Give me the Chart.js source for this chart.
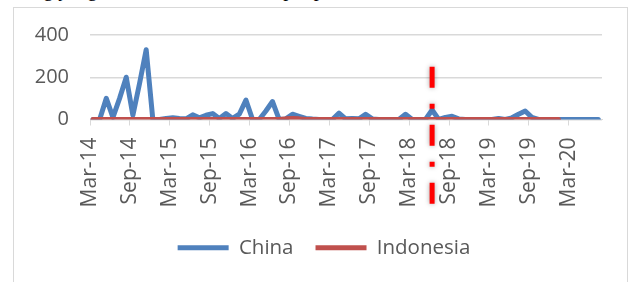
<!DOCTYPE html>
<html>
<head>
<meta charset="utf-8">
<script src="https://cdn.jsdelivr.net/npm/chart.js@4"></script>
<style>
  html, body { margin: 0; padding: 0; background: #fff; overflow: hidden; }
  body { width: 630px; height: 282px; position: relative; }
  #doc-line {
    position: absolute; left: 0; top: -21px; white-space: nowrap;
    font: 20px 'Liberation Serif', serif; line-height: 20px; color: #000;
  }
  #frame {
    position: absolute; left: 13px; top: 7px; width: 613px; height: 290px;
    border: 1px solid #d9d9d9; background: #fff;
  }
  #wrap { position: absolute; left: 0; top: -6px; width: 612px; height: 280px; }
</style>
</head>
<body>
<div id="doc-line">datang yang di olah menurut bulan per padanan HS.</div>
<div id="frame"><div id="wrap"><canvas id="chart"></canvas></div></div>
<script>
(()=>{
    const ctx = document.getElementById('chart');

    // monthly series, first month = Mar-14
    const tickLabels = ['Mar-14','Sep-14','Mar-15','Sep-15','Mar-16','Sep-16','Mar-17',
                        'Sep-17','Mar-18','Sep-18','Mar-19','Sep-19','Mar-20'];
    const tickEvery = 6; // months between labels

    // China: Mar-14 .. Jul-20
    const china = [
        0, 0, 100, 10, 100, 200, 20, 170, 330, 0,
        0, 5, 8, 5, 3, 22, 8, 20, 28, 5,
        28, 5, 25, 92, 0, 0, 40, 85, 0, 3,
        25, 15, 5, 2, 0, 0, 0, 30, 3, 5,
        3, 25, 3, 0, 0, 0, 0, 25, 0, 0,
        0, 45, 0, 10, 15, 3, 0, 0, 0, 0,
        0, 5, 0, 8, 25, 40, 10, 0, 0, 0,
        0, 0, 0, 0, 0, 0, 0
    ];
    // Indonesia: Mar-14 .. Jan-20
    const indonesia = [
        0, 0, 0, 0, 0, 0, 0, 0, 0, 0,
        0, 0, 0, 0, 0, 0, 0, 0, 0, 0,
        0, 0, 0, 0, 0, 0, 0, 0, 0, 3,
        5, 3, 0, 0, 0, 0, 0, 0, 0, 0,
        0, 0, 0, 0, 0, 0, 0, 0, 0, 0,
        0, 0, 0, 0, 0, 0, 0, 0, 0, 0,
        0, 0, 0, 0, 0, 0, 0, 0, 0, 0,
        0
    ];
    const yTicks = [0, 200, 400];

    // red dash-dot marker at Jun-18 (month index 51)
    const markerMonth = 51;
    const markerTop = 250;
    const markerBottom = -410;

    // points are dated mid-month on a date axis
    const toPoints = arr => arr.map((v, i) => ({x: i + 0.45, y: v}));

    const textColor = '#595959';
    const gridColor = '#d9d9d9';
    const fontFamily = "'Open Sans', sans-serif";

    const marker = {
        id: 'marker',
        afterLayout(chart) {
            // legend sits a little right of centre in the original
            chart.legend.left += 16;
            chart.legend.right += 16;
        },
        afterDraw(chart) {
            const c = chart.ctx;
            const xs = chart.scales.x, ys = chart.scales.y;
            const x = xs.getPixelForValue(markerMonth + 0.45);
            c.save();
            c.strokeStyle = '#ff0000';
            c.lineWidth = 5;
            c.setLineDash([21, 16, 5, 16]);
            c.shadowColor = 'rgba(0,0,0,0.35)';
            c.shadowBlur = 5;
            c.beginPath();
            c.moveTo(x, ys.getPixelForValue(markerTop));
            c.lineTo(x, ys.getPixelForValue(markerBottom));
            c.stroke();
            c.restore();
        }
    };

    new Chart(ctx, {
        type: 'line',
        data: {
            datasets: [
                {
                    label: 'China',
                    data: toPoints(china),
                    borderColor: '#4f81bd',
                    backgroundColor: '#4f81bd',
                    borderWidth: 5,
                    borderCapStyle: 'round',
                    borderJoinStyle: 'round',
                    pointRadius: 0,
                    tension: 0,
                    order: 2
                },
                {
                    label: 'Indonesia',
                    data: toPoints(indonesia),
                    borderColor: '#c0504d',
                    backgroundColor: '#c0504d',
                    borderWidth: 5,
                    borderCapStyle: 'round',
                    borderJoinStyle: 'round',
                    pointRadius: 0,
                    tension: 0,
                    order: 1
                }
            ]
        },
        options: {
            responsive: true,
            maintainAspectRatio: false,
            animation: false,
            layout: {
                padding: {top: 33, right: 24, bottom: 14, left: 0}
            },
            plugins: {
                tooltip: {enabled: false},
                legend: {
                    position: 'bottom',
                    labels: {
                        usePointStyle: true,
                        pointStyleWidth: 51,
                        pointStyle: 'line',
                        color: textColor,
                        padding: 22,
                        font: {family: fontFamily, size: 20.5},
                        sort: (a, b) => a.datasetIndex - b.datasetIndex
                    }
                }
            },
            scales: {
                x: {
                    type: 'linear',
                    min: 0,
                    max: 77,
                    afterBuildTicks: s => {
                        s.ticks = tickLabels.map((t, i) => ({value: i * tickEvery}));
                    },
                    afterFit: s => { s.height = 96; },
                    border: {color: gridColor, width: 1},
                    grid: {
                        drawOnChartArea: false,
                        color: gridColor,
                        tickLength: 6
                    },
                    ticks: {
                        autoSkip: false,
                        minRotation: 90,
                        maxRotation: 90,
                        padding: 12,
                        color: textColor,
                        font: {family: fontFamily, size: 21},
                        callback: v => tickLabels[Math.round(v / tickEvery)]
                    }
                },
                y: {
                    min: 0,
                    max: 400,
                    afterBuildTicks: s => {
                        s.ticks = yTicks.map(v => ({value: v}));
                    },
                    afterFit: s => { s.width = 76; },
                    border: {display: false},
                    grid: {
                        color: gridColor,
                        lineWidth: 1.5,
                        drawTicks: false
                    },
                    ticks: {
                        padding: 21,
                        color: textColor,
                        font: {family: fontFamily, size: 20}
                    }
                }
            }
        },
        plugins: [marker]
    });
})()
</script>
</body>
</html>
